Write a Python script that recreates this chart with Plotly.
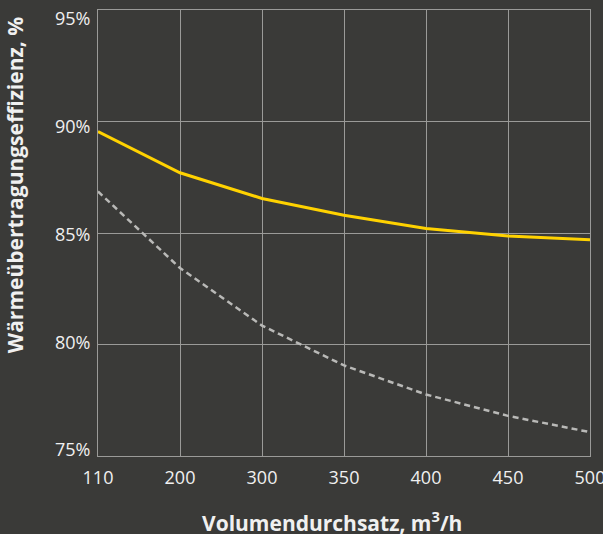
import plotly.graph_objects as go

flow = ["110", "200", "300", "350", "400", "450", "500"]
eff_main = [89.55, 87.7, 86.55, 85.8, 85.2, 84.87, 84.7]
eff_ref = [86.86, 83.43, 80.85, 79.06, 77.76, 76.8, 76.07]
y_ticks = [75, 80, 85, 90, 95]
y_labels = ["75%", "80%", "85%", "90%", "95%"]

BG = "#3a3a38"
GRID = "#9a9a98"
FONT = "Open Sans"
TXT = "#f0f0f0"

fig = go.Figure()
fig.add_trace(go.Scatter(x=flow, y=eff_ref, mode="lines",
                         line=dict(color="#b9b9b7", width=2.5, dash="6px,4px"),
                         hoverinfo="skip"))
fig.add_trace(go.Scatter(x=flow, y=eff_main, mode="lines",
                         line=dict(color="#ffd200", width=3),
                         hoverinfo="skip"))
# invisible carrier for the label axis (labels sit slightly inside, as in the original)
fig.add_trace(go.Scatter(x=flow, y=eff_main, mode="lines", yaxis="y2",
                         line=dict(color="rgba(0,0,0,0)", width=0),
                         hoverinfo="skip"))

fig.update_layout(
    width=603, height=534,
    margin=dict(l=98, r=13, t=10, b=78),
    paper_bgcolor=BG, plot_bgcolor=BG,
    showlegend=False,
    font=dict(family=FONT, color=TXT, size=18),
    xaxis=dict(type="category", range=[0, 6], showgrid=True, gridcolor=GRID,
               gridwidth=1.3, showline=True, linecolor=GRID, linewidth=1.3,
               mirror=True, zeroline=False, ticks="outside", ticklen=5,
               tickcolor=BG, tickfont=dict(size=18, color=TXT),
               automargin=False, ticklabeloverflow="allow"),
    yaxis=dict(range=[75, 95], tickmode="array", tickvals=y_ticks,
               showticklabels=False,
               showgrid=True, gridcolor=GRID, gridwidth=1.3,
               showline=True, linecolor=GRID, linewidth=1.3, mirror=True,
               zeroline=False, ticks="", automargin=False),
    yaxis2=dict(overlaying="y", side="left", range=[74.72, 95.42],
                tickmode="array", tickvals=y_ticks, ticktext=y_labels,
                showgrid=False, zeroline=False, showline=False,
                ticks="outside", ticklen=3, tickcolor="rgba(0,0,0,0)",
                tickfont=dict(size=18, color=TXT),
                automargin=False, ticklabeloverflow="allow"),
    annotations=[
        dict(text="<b>Volumendurchsatz, m<sup>3</sup>/h</b>", xref="paper", yref="paper",
             x=0.4756, y=-0.146, xanchor="center", yanchor="middle", showarrow=False,
             font=dict(size=21, color=TXT, family=FONT)),
        dict(text="<b>Wärmeübertragungseffizienz, %</b>", xref="paper", yref="paper",
             x=-0.169, y=0.607, xanchor="center", yanchor="middle", textangle=-90,
             showarrow=False, font=dict(size=21, color=TXT, family=FONT)),
    ],
)

fig.write_html("out.html", config={"displayModeBar": False},
               post_script="document.body.style.margin='0';")
